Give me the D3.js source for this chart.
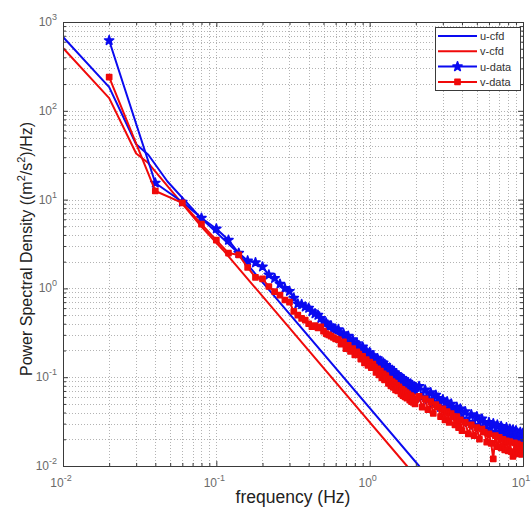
<!DOCTYPE html>
<html>
<head>
<meta charset="utf-8">
<script src="https://cdn.jsdelivr.net/npm/d3@7/dist/d3.min.js"></script>
<style>
body { margin: 0; background: #fff; }
svg { font-family: "Liberation Sans", Arial, sans-serif; }
</style>
</head>
<body>
<svg id="chart" width="531" height="510"></svg>
<script>
// cfd spectra (model)
const cfdFreqU = [0.01, 0.02, 0.03, 0.036, 0.048, 0.078, 0.1325, 2.1, 2.6];
const uCfd     = [678, 185, 42, 32, 16, 6.4, 2.71, 0.01, 0.0065];
const cfdFreqV = [0.01, 0.02, 0.03, 0.036, 0.0782, 0.1106, 1.75, 2.2];
const vCfd     = [510, 139, 33, 25.8, 5.18, 2.71, 0.01, 0.0063];

// measured spectra
const dataFreq = [
  0.02, 0.04, 0.06, 0.08, 0.10, 0.12, 0.14, 0.16, 0.18, 0.20,
  0.22, 0.24, 0.26, 0.28, 0.30, 0.32, 0.34, 0.36, 0.38, 0.40,
  0.42, 0.44, 0.46, 0.48, 0.50, 0.52, 0.54, 0.56, 0.58, 0.60,
  0.625, 0.65, 0.675, 0.70, 0.725, 0.75, 0.775, 0.80,
  0.825, 0.85, 0.875, 0.90, 0.925, 0.95, 0.975, 1.00,
  1.025, 1.05, 1.075, 1.10, 1.125, 1.15, 1.175, 1.20,
  1.225, 1.25, 1.275, 1.30, 1.325, 1.35, 1.375, 1.40,
  1.425, 1.45, 1.475, 1.50, 1.525, 1.55, 1.575, 1.60,
  1.625, 1.65, 1.675, 1.70, 1.725, 1.75, 1.775, 1.80,
  1.825, 1.85, 1.875, 1.90, 1.925, 1.95, 1.975, 2.00,
  2.1, 2.2, 2.3, 2.4, 2.5, 2.6, 2.7, 2.8, 2.9, 3.0,
  3.1, 3.2, 3.3, 3.4, 3.5, 3.6, 3.7, 3.8, 3.9, 4.0,
  4.2, 4.4, 4.6, 4.8, 5.0, 5.2, 5.4, 5.6, 5.8, 6.0,
  6.2, 6.4, 6.6, 6.8, 7.0, 7.2, 7.4, 7.6, 7.8, 8.0,
  8.2, 8.4, 8.6, 8.8, 9.0, 9.2, 9.4, 9.6, 9.8, 10.0
];
const uData = [
  620, 15.4, 9.4, 6.2, 4.7, 3.5, 2.5, 2.05, 1.95, 1.75,
  1.42, 1.3, 1.12, 1.0, 0.93, 0.78, 0.67, 0.66, 0.62, 0.6,
  0.55, 0.52, 0.5, 0.46, 0.42, 0.41, 0.37, 0.38, 0.35, 0.34,
  0.345, 0.30, 0.31, 0.27, 0.29, 0.245, 0.265, 0.225,
  0.24, 0.228, 0.205, 0.22, 0.185, 0.2, 0.172, 0.19,
  0.162, 0.175, 0.165, 0.148, 0.162, 0.14, 0.152, 0.132,
  0.145, 0.125, 0.136, 0.128, 0.115, 0.127, 0.108, 0.12,
  0.104, 0.113, 0.099, 0.108, 0.095, 0.103, 0.098, 0.088,
  0.097, 0.085, 0.094, 0.082, 0.09, 0.079, 0.087, 0.083,
  0.076, 0.084, 0.073, 0.081, 0.071, 0.078, 0.07, 0.077,
  0.079, 0.06, 0.072, 0.056, 0.067, 0.051, 0.063, 0.058, 0.046, 0.056,
  0.044, 0.053, 0.041, 0.05, 0.045, 0.037, 0.046, 0.035, 0.044, 0.034,
  0.041, 0.031, 0.038, 0.029, 0.036, 0.027, 0.034, 0.031, 0.026, 0.031,
  0.024, 0.03, 0.024, 0.029, 0.023, 0.028, 0.026, 0.022, 0.027, 0.021,
  0.026, 0.021, 0.0255, 0.020, 0.025, 0.023, 0.0195, 0.024, 0.0195, 0.0235
];
const vData = [
  240, 12.5, 9.2, 5.3, 3.5, 2.5, 2.38, 1.72, 1.33, 1.28,
  1.05, 0.92, 0.84, 0.74, 0.7, 0.55, 0.5, 0.46, 0.44, 0.4,
  0.37, 0.38, 0.36, 0.37, 0.33, 0.31, 0.3, 0.29, 0.28, 0.27,
  0.265, 0.235, 0.25, 0.21, 0.228, 0.195, 0.21, 0.178,
  0.193, 0.182, 0.16, 0.172, 0.145, 0.158, 0.136, 0.148,
  0.128, 0.14, 0.13, 0.113, 0.124, 0.106, 0.117, 0.098,
  0.109, 0.093, 0.104, 0.096, 0.085, 0.095, 0.08, 0.089,
  0.077, 0.086, 0.072, 0.081, 0.07, 0.078, 0.074, 0.065,
  0.073, 0.062, 0.07, 0.06, 0.067, 0.058, 0.065, 0.061,
  0.055, 0.062, 0.053, 0.06, 0.052, 0.057, 0.05, 0.056,
  0.061, 0.046, 0.057, 0.043, 0.053, 0.039, 0.049, 0.046, 0.036, 0.044,
  0.033, 0.041, 0.031, 0.039, 0.036, 0.029, 0.036, 0.027, 0.033, 0.025,
  0.031, 0.023, 0.029, 0.022, 0.027, 0.020, 0.026, 0.024, 0.0185, 0.023,
  0.018, 0.012, 0.022, 0.0165, 0.021, 0.016, 0.020, 0.0152, 0.0192, 0.0148,
  0.0188, 0.0145, 0.0128, 0.0182, 0.014, 0.0178, 0.0137, 0.0172, 0.0135, 0.017
];

const xTicks = [0.01, 0.1, 1, 10];
const xTickExp = ["-2", "-1", "0", "1"];
const yTicks = [0.01, 0.1, 1, 10, 100, 1000];
const yTickExp = ["-2", "-1", "0", "1", "2", "3"];
const legendNames = ["u-cfd", "v-cfd", "u-data", "v-data"];

const blue = "#0a0af0";
const red = "#f00a0a";

const svg = d3.select("#chart");
const pLeft = 63, pRight = 523, pTop = 22, pBottom = 466;

const x = d3.scaleLog().domain([0.01, 10]).range([pLeft, pRight]);
const y = d3.scaleLog().domain([0.01, 1000]).range([pBottom, pTop]);

// minor values k*10^d
function minorValues(dom) {
  const out = [];
  for (let e = Math.round(Math.log10(dom[0])); e < Math.round(Math.log10(dom[1])); e++) {
    for (let k = 2; k <= 9; k++) out.push(k * Math.pow(10, e));
  }
  return out;
}
const xMinor = minorValues(x.domain());
const yMinor = minorValues(y.domain());

svg.append("rect").attr("x", pLeft).attr("y", pTop)
  .attr("width", pRight - pLeft).attr("height", pBottom - pTop).attr("fill", "#fff");

// grid (major + minor, dotted)
const grid = svg.append("g").attr("stroke", "#a0a0a0").attr("stroke-width", 0.8)
  .attr("stroke-dasharray", "1,2");
grid.selectAll(".gx").data(xTicks.concat(xMinor)).enter().append("line")
  .attr("x1", d => Math.round(x(d)) + 0.5).attr("x2", d => Math.round(x(d)) + 0.5)
  .attr("y1", pTop).attr("y2", pBottom);
grid.selectAll(".gy").data(yTicks.concat(yMinor)).enter().append("line")
  .attr("y1", d => Math.round(y(d)) + 0.5).attr("y2", d => Math.round(y(d)) + 0.5)
  .attr("x1", pLeft).attr("x2", pRight);

// clip
svg.append("clipPath").attr("id", "clip").append("rect")
  .attr("x", pLeft).attr("y", pTop).attr("width", pRight - pLeft).attr("height", pBottom - pTop);
const plot = svg.append("g").attr("clip-path", "url(#clip)");

const line = d3.line().x(d => x(d[0])).y(d => y(d[1]));

const series = [
  { name: "u-cfd", f: cfdFreqU, v: uCfd, color: blue, marker: null },
  { name: "v-cfd", f: cfdFreqV, v: vCfd, color: red, marker: null },
  { name: "u-data", f: dataFreq, v: uData, color: blue, marker: d3.symbolStar, size: 26 },
  { name: "v-data", f: dataFreq, v: vData, color: red, marker: d3.symbolSquare, size: 26 }
];

series.forEach(s => {
  const pts = s.f.map((f, i) => [f, s.v[i]]);
  plot.append("path").datum(pts)
    .attr("fill", "none").attr("stroke", s.color).attr("stroke-width", 2)
    .attr("stroke-linejoin", "round").attr("d", line);
  if (s.marker) {
    plot.append("g").selectAll("path").data(pts).enter().append("path")
      .attr("transform", d => `translate(${x(d[0])},${y(d[1])})`)
      .attr("d", d3.symbol().type(s.marker).size(s.size))
      .attr("fill", s.color).attr("stroke", s.color).attr("stroke-width", 1.6)
      .attr("stroke-linejoin", "round");
  }
});

// axes: box with inward ticks
const axColor = "#3a3a3a";
function styleAxis(g) {
  g.select(".domain").attr("stroke", axColor);
  g.selectAll(".tick line").attr("stroke", axColor);
  g.selectAll(".tick text").remove();
}
svg.append("g").attr("transform", `translate(0,${pBottom})`)
  .call(d3.axisBottom(x).tickValues(xTicks).tickSize(-5).tickSizeOuter(0).tickFormat(""))
  .call(styleAxis);
svg.append("g").attr("transform", `translate(0,${pBottom})`)
  .call(d3.axisBottom(x).tickValues(xMinor).tickSize(-3).tickSizeOuter(0).tickFormat(""))
  .call(styleAxis);
svg.append("g").attr("transform", `translate(0,${pTop})`)
  .call(d3.axisTop(x).tickValues(xTicks).tickSize(-5).tickSizeOuter(0).tickFormat(""))
  .call(styleAxis);
svg.append("g").attr("transform", `translate(0,${pTop})`)
  .call(d3.axisTop(x).tickValues(xMinor).tickSize(-3).tickSizeOuter(0).tickFormat(""))
  .call(styleAxis);
svg.append("g").attr("transform", `translate(${pLeft},0)`)
  .call(d3.axisLeft(y).tickValues(yTicks).tickSize(-5).tickSizeOuter(0).tickFormat(""))
  .call(styleAxis);
svg.append("g").attr("transform", `translate(${pLeft},0)`)
  .call(d3.axisLeft(y).tickValues(yMinor).tickSize(-3).tickSizeOuter(0).tickFormat(""))
  .call(styleAxis);
svg.append("g").attr("transform", `translate(${pRight},0)`)
  .call(d3.axisRight(y).tickValues(yTicks).tickSize(-5).tickSizeOuter(0).tickFormat(""))
  .call(styleAxis);
svg.append("g").attr("transform", `translate(${pRight},0)`)
  .call(d3.axisRight(y).tickValues(yMinor).tickSize(-3).tickSizeOuter(0).tickFormat(""))
  .call(styleAxis);

// tick labels 10^n
const tickColor = "#6a6a6a";
const xl = svg.append("g").attr("fill", tickColor).attr("font-size", 12);
xTicks.forEach((t, i) => {
  const txt = xl.append("text").attr("x", x(t) - 2).attr("y", pBottom + 21).attr("text-anchor", "middle");
  txt.append("tspan").text("10");
  txt.append("tspan").attr("dy", -6).attr("font-size", 9).text(xTickExp[i]);
});
const yl = svg.append("g").attr("fill", tickColor).attr("font-size", 12);
yTicks.forEach((t, i) => {
  const txt = yl.append("text").attr("x", pLeft - 6).attr("y", y(t) + 4).attr("text-anchor", "end");
  txt.append("tspan").text("10");
  txt.append("tspan").attr("dy", -6).attr("font-size", 9).text(yTickExp[i]);
});

// axis labels
svg.append("text").attr("x", (pLeft + pRight) / 2).attr("y", 503)
  .attr("text-anchor", "middle").attr("font-size", 17.5).attr("fill", "#222")
  .text("frequency (Hz)");
const yLab = svg.append("text")
  .attr("transform", `translate(32,${(pTop + pBottom) / 2 + 5}) rotate(-90)`)
  .attr("text-anchor", "middle").attr("font-size", 16).attr("fill", "#222");
yLab.append("tspan").text("Power Spectral Density ((m");
yLab.append("tspan").attr("dy", -7).attr("font-size", 11).text("2");
yLab.append("tspan").attr("dy", 7).text("/s");
yLab.append("tspan").attr("dy", -7).attr("font-size", 11).text("2");
yLab.append("tspan").attr("dy", 7).text(")/Hz)");

// legend
const lg = svg.append("g");
lg.append("rect").attr("x", 435.5).attr("y", 27.5).attr("width", 85).attr("height", 63)
  .attr("fill", "#fff").attr("stroke", axColor).attr("stroke-width", 1);
series.forEach((s, i) => {
  const ly = 36 + i * 15.3;
  lg.append("line").attr("x1", 438).attr("x2", 477).attr("y1", ly).attr("y2", ly)
    .attr("stroke", s.color).attr("stroke-width", 2);
  if (s.marker) {
    lg.append("path").attr("transform", `translate(457.5,${ly})`)
      .attr("d", d3.symbol().type(s.marker).size(s.size))
      .attr("fill", s.color).attr("stroke", s.color).attr("stroke-width", 1.6)
      .attr("stroke-linejoin", "round");
  }
  lg.append("text").attr("x", 480).attr("y", ly + 4).attr("font-size", 11)
    .attr("fill", "#333").text(legendNames[i]);
});
</script>
</body>
</html>
